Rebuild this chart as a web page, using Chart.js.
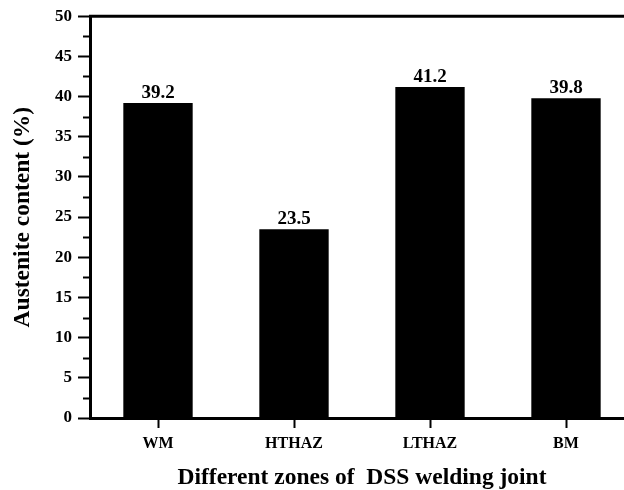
<!DOCTYPE html>
<html>
<head>
<meta charset="utf-8">
<script src="https://cdn.jsdelivr.net/npm/chart.js@4.4.1/dist/chart.umd.min.js"></script>
<style>
  html, body { margin: 0; padding: 0; background: #fff; }
  #wrap { width: 624px; height: 490px; overflow: hidden; }
  #wrap canvas { display: block; }
</style>
</head>
<body>
<div id="wrap"><canvas id="austeniteChart" width="650" height="490"></canvas></div>
<script>
// zones of the welded joint and measured austenite fraction
var zones = ["WM", "HTHAZ", "LTHAZ", "BM"];
var austenite = [39.2, 23.5, 41.2, 39.8];
var yTicks = [0, 5, 10, 15, 20, 25, 30, 35, 40, 45, 50];
var yMinorTicks = [2.5, 7.5, 12.5, 17.5, 22.5, 27.5, 32.5, 37.5, 42.5, 47.5];

var serif = "'Liberation Serif', 'Times New Roman', serif";

// top frame line, minor y ticks and the value printed over each bar
var framePlugin = {
  id: "frame",
  afterDraw: function(chart) {
    var ctx = chart.ctx;
    var area = chart.chartArea;
    var y = chart.scales.y;
    ctx.save();
    ctx.strokeStyle = "#000";
    ctx.lineWidth = 3;
    ctx.beginPath();
    ctx.moveTo(area.left - 1, area.top);
    ctx.lineTo(area.right, area.top);
    ctx.stroke();

    ctx.lineWidth = 2;
    yMinorTicks.forEach(function(v) {
      var py = Math.round(y.getPixelForValue(v)) + 0.5;
      ctx.beginPath();
      ctx.moveTo(area.left - 7, py);
      ctx.lineTo(area.left, py);
      ctx.stroke();
    });

    ctx.fillStyle = "#000";
    ctx.font = "bold 19px " + serif;
    ctx.textAlign = "center";
    ctx.textBaseline = "alphabetic";
    var meta = chart.getDatasetMeta(0);
    meta.data.forEach(function(bar, i) {
      ctx.fillText(austenite[i].toFixed(1), bar.x, bar.y - 5);
    });
    ctx.restore();
  }
};

var ctx = document.getElementById("austeniteChart");
var austeniteChart = new Chart(ctx, {
  type: "bar",
  data: {
    labels: zones,
    datasets: [{
      label: "Austenite content",
      data: austenite,
      backgroundColor: "#000",
      borderWidth: 0,
      barPercentage: 0.51,
      categoryPercentage: 1.0
    }]
  },
  options: {
    responsive: false,
    animation: false,
    layout: { padding: { top: 16, right: 16, left: 0, bottom: 0 } },
    plugins: {
      legend: { display: false },
      tooltip: { enabled: false }
    },
    scales: {
      x: {
        offset: true,
        grid: {
          offset: false,
          drawOnChartArea: false,
          drawTicks: true,
          tickLength: 10,
          tickWidth: 2,
          tickColor: "#000"
        },
        border: { display: true, color: "#000", width: 3 },
        ticks: {
          color: "#000",
          padding: 6,
          font: { family: serif, size: 16, weight: "bold" }
        },
        title: {
          display: true,
          text: "Different zones of  DSS welding joint",
          color: "#000",
          padding: { top: 0, bottom: 0 },
          font: { family: serif, size: 23.5, weight: "bold", lineHeight: 1 }
        },
        afterFit: function(scale) { scale.height = 72; }
      },
      y: {
        min: 0,
        max: 50,
        afterBuildTicks: function(scale) {
          scale.ticks = yTicks.map(function(v) { return { value: v }; });
        },
        grid: {
          drawOnChartArea: false,
          drawTicks: true,
          tickLength: 12,
          tickWidth: 2,
          tickColor: "#000"
        },
        border: { display: true, color: "#000", width: 3 },
        ticks: {
          color: "#000",
          padding: 6,
          font: { family: serif, size: 17, weight: "bold" }
        },
        title: {
          display: true,
          text: "Austenite content (%)",
          color: "#000",
          padding: { top: 11, bottom: 0 },
          font: { family: serif, size: 23.5, weight: "bold", lineHeight: 1 }
        },
        afterFit: function(scale) { scale.width = 90; }
      }
    }
  },
  plugins: [framePlugin]
});
</script>
</body>
</html>
